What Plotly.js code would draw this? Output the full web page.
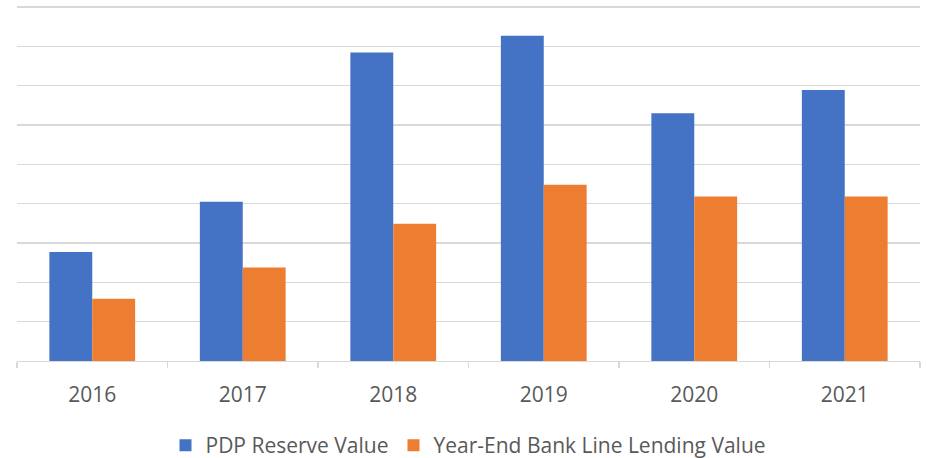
<!DOCTYPE html>
<html>
<head>
<meta charset="utf-8">
<script src="https://cdn.plot.ly/plotly-3.0.1.min.js"></script>
<style>html,body{margin:0;padding:0;background:#fff;}#chart{width:927px;height:458px;}</style>
</head>
<body>
<div id="chart"></div>
<script>
const years = ["2016", "2017", "2018", "2019", "2020", "2021"];
const pdpReserveValue = [2.77, 4.05, 7.84, 8.27, 6.30, 6.89];
const bankLineLendingValue = [1.58, 2.38, 3.49, 4.48, 4.18, 4.18];
const seriesNames = ["PDP Reserve Value", "Year-End Bank Line Lending Value"];

const font = {family: "Open Sans, Lato, sans-serif", size: 21, color: "#595959"};

const data = [
  {type: "bar", x: years, y: pdpReserveValue, name: seriesNames[0],
   marker: {color: "#4472C4", line: {width: 0}}, hoverinfo: "x+y"},
  {type: "bar", x: years, y: bankLineLendingValue, name: seriesNames[1],
   marker: {color: "#ED7D31", line: {width: 0}}, hoverinfo: "x+y"}
];

const layout = {
  width: 927, height: 458,
  margin: {l: 17, r: 7, t: 5, b: 97, autoexpand: false},
  paper_bgcolor: "#fff", plot_bgcolor: "#fff",
  font: font,
  barmode: "group",
  bargap: 0.43,
  bargroupgap: 0,
  showlegend: true,
  legend: {orientation: "h", x: 0.5, xanchor: "center", y: -0.18, yanchor: "top",
           font: font, itemwidth: 30, traceorder: "normal"},
  xaxis: {type: "category", showline: true, linecolor: "#d9d9d9", linewidth: 1.3,
          ticks: "outside", tickson: "boundaries", ticklen: 6, tickcolor: "#d9d9d9", tickwidth: 1.3,
          ticklabelstandoff: 14,
          tickfont: font, showgrid: false, zeroline: false, fixedrange: true},
  yaxis: {range: [0, 9.05], dtick: 1, showticklabels: false, showgrid: true,
          gridcolor: "#d9d9d9", gridwidth: 1.3, zeroline: false, showline: false, ticks: "", fixedrange: true}
};

Plotly.newPlot("chart", data, layout, {displayModeBar: false, staticPlot: true});
</script>
</body>
</html>
